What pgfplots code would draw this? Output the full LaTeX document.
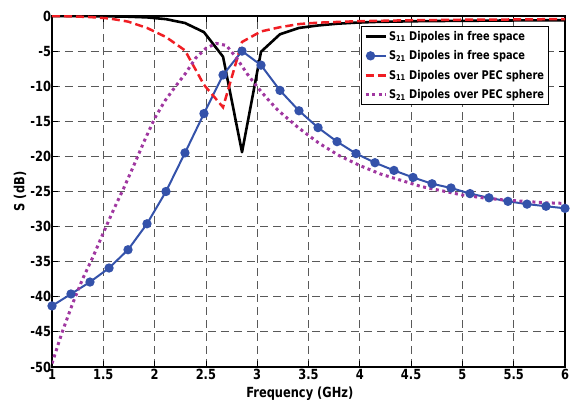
\documentclass[border=0pt]{standalone}
\usepackage{fontspec}
\setmainfont{DejaVu Sans}[FakeStretch=0.82]
\usepackage{pgfplots}
\usepackage{pgfplotstable}
\pgfplotsset{compat=1.18}
\definecolor{cblue}{RGB}{52,82,170}
\definecolor{cred}{RGB}{240,30,36}
\definecolor{cmag}{RGB}{160,55,160}
\pgfplotstableread{
x s11f s21f s11p
1.000 0 -41.3 0
1.185 0 -39.6 -0.05
1.370 -0.02 -37.9 -0.15
1.556 -0.05 -35.9 -0.35
1.741 -0.1 -33.3 -0.8
1.926 -0.2 -29.6 -1.7
2.111 -0.45 -25.0 -3.0
2.296 -1.0 -19.5 -4.9
2.481 -2.3 -13.9 -9.8
2.667 -5.8 -8.4 -13.0
2.852 -19.4 -5.0 -3.7
3.037 -5.1 -7.0 -2.2
3.222 -2.6 -10.6 -1.6
3.407 -1.7 -13.5 -1.15
3.593 -1.35 -15.9 -0.95
3.778 -1.1 -17.9 -0.85
3.963 -0.95 -19.6 -0.75
4.148 -0.85 -20.9 -0.7
4.333 -0.8 -22.0 -0.65
4.519 -0.75 -23.0 -0.6
4.704 -0.72 -23.9 -0.58
4.889 -0.7 -24.5 -0.55
5.074 -0.68 -25.3 -0.52
5.259 -0.66 -25.9 -0.5
5.444 -0.64 -26.4 -0.5
5.630 -0.62 -26.8 -0.48
5.815 -0.61 -27.1 -0.46
6.000 -0.6 -27.4 -0.45
}\freespace
\pgfplotstableread{
x s21p
1.0 -49.5
1.1 -45.0
1.2 -41.0
1.3 -37.4
1.4 -34.3
1.5 -30.9
1.6 -27.6
1.7 -24.5
1.8 -21.2
1.9 -17.8
2.0 -14.6
2.1 -12.1
2.2 -10.1
2.3 -8.2
2.4 -6.0
2.5 -4.6
2.6 -3.9
2.7 -4.2
2.8 -6.0
2.9 -8.2
3.0 -10.1
3.1 -11.8
3.2 -13.4
3.4 -15.9
3.6 -18.1
3.8 -19.9
4.0 -21.3
4.2 -22.5
4.4 -23.4
4.6 -24.3
4.8 -24.9
5.0 -25.5
5.2 -25.9
5.4 -26.2
5.6 -26.4
5.8 -26.6
6.0 -26.7
}\pecsphere
\begin{document}
\begin{tikzpicture}
\begin{axis}[
  name=ax, at={(0,0)}, anchor=south west,
  scale only axis, width=513bp, height=351bp,
  xmin=1, xmax=6, ymin=-50, ymax=0,
  xtick={1,1.5,...,6}, ytick={-50,-45,...,0},
  tick align=inside, major tick length=6bp,
  axis line style={line width=1.3bp},
  every tick/.style={black, line width=0.8bp},
  grid=major,
  major grid style={dashed, dash pattern=on 8bp off 5bp, color=black!65, line width=0.8bp},
  /pgf/number format/assume math mode=true,
  ticklabel style={font=\fontsize{14}{15}\selectfont\bfseries},
  yticklabel style={xshift=2.5bp},
  xticklabel style={yshift=1bp},
  xlabel={Frequency (GHz)}, ylabel={S (dB)},
  every axis x label/.style={at={(rel axis cs:0.483,0)}, anchor=north, yshift=-16bp, font=\fontsize{14}{15}\selectfont\bfseries},
  every axis y label/.style={at={(rel axis cs:0,0.5)}, xshift=-32bp, rotate=90, anchor=center, font=\fontsize{14}{15}\selectfont\bfseries},
  legend style={at={(rel axis cs:0.969,0.9715)}, anchor=north east, draw=black, line width=1bp,
    font=\fontsize{12}{14}\selectfont\bfseries, row sep=5bp, inner sep=2.5bp, fill=white},
  legend cell align=left,
  legend image code/.code={\draw[#1, mark repeat=2, mark phase=2] plot coordinates {(0bp,0bp) (5bp,0bp) (20bp,0bp)};},
]
\addplot[black, line width=2.6bp, line join=round] table[x=x, y=s11f] {\freespace};
\addlegendentry{S\textsubscript{11} Dipoles in free space}
\addplot[cblue, line width=2bp, mark=*, mark size=3.6bp, mark options={solid}] table[x=x, y=s21f] {\freespace};
\addlegendentry{S\textsubscript{21} Dipoles in free space}
\addplot[cred, line width=2.5bp, dash pattern=on 8bp off 4bp] table[x=x, y=s11p] {\freespace};
\addlegendentry{S\textsubscript{11} Dipoles over PEC sphere}
\addplot[cmag, line width=3bp, dash pattern=on 3bp off 3.5bp] table[x=x, y=s21p] {\pecsphere};
\addlegendentry{S\textsubscript{21} Dipoles over PEC sphere}
\end{axis}
\pgfresetboundingbox
\path ([shift={(-52bp,-33bp)}]ax.south west) rectangle ([shift={(5bp,16bp)}]ax.north east);
\end{tikzpicture}
\end{document}
